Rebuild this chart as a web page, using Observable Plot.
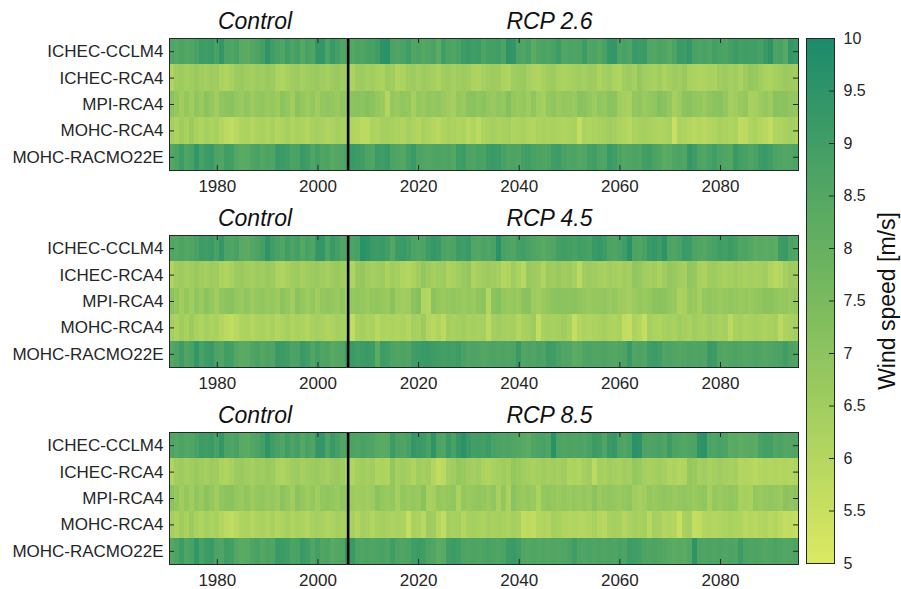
<!DOCTYPE html>
<html>
<head>
<meta charset="utf-8">
<script src="https://cdn.jsdelivr.net/npm/d3@7"></script>
<script src="https://cdn.jsdelivr.net/npm/@observablehq/plot@0.6"></script>
<style>
  html, body { margin: 0; padding: 0; background: #fff; }
  #chart { position: relative; width: 901px; height: 589px; overflow: hidden; }
  #chart svg { position: absolute; display: block; overflow: visible; }
</style>
</head>
<body>
<div id="chart"></div>
<script>
// Annual mean wind speed [m/s] per regional climate model, control run + three RCP scenarios
const models = ["ICHEC-CCLM4", "ICHEC-RCA4", "MPI-RCA4", "MOHC-RCA4", "MOHC-RACMO22E"];
const controlStart = 1971;   // control run: 1971–2005
const rcpStart = 2006;       // scenario runs: 2006–2095
const xTicks = [1980, 2000, 2020, 2040, 2060, 2080];
const colorTicks = [5, 5.5, 6, 6.5, 7, 7.5, 8, 8.5, 9, 9.5, 10];
const scenarios = ["RCP 2.6", "RCP 4.5", "RCP 8.5"];

// Control period (shared by all panels)
const ctrl_ICHEC_CCLM4 = [8.6, 8.5, 8.7, 8.5, 8.6, 8.8, 9.1, 9.0, 9.2, 8.8, 9.3, 8.7, 8.6, 8.8, 8.4, 8.3, 8.5, 8.7, 8.9, 9.5, 9.0, 8.8, 8.6, 9.0, 8.7, 8.9, 8.5, 8.8, 8.6, 9.3, 9.4, 8.7, 9.2, 8.9, 8.6];
const ctrl_ICHEC_RCA4 = [6.1, 6.5, 6.6, 6.4, 6.5, 6.7, 6.5, 6.4, 6.6, 6.5, 6.2, 6.1, 6.3, 6.6, 6.7, 6.5, 6.4, 6.6, 6.5, 6.7, 6.6, 6.2, 6.1, 6.3, 6.5, 6.6, 6.4, 6.5, 6.6, 6.7, 6.5, 6.4, 6.6, 6.7, 6.5];
const ctrl_MPI_RCA4 = [7.0, 6.8, 6.5, 6.8, 6.5, 6.9, 6.7, 7.0, 6.8, 6.5, 6.9, 7.0, 7.1, 6.8, 6.7, 6.9, 6.6, 6.8, 6.9, 6.7, 6.8, 6.6, 7.0, 6.8, 6.5, 7.0, 6.8, 6.6, 6.8, 6.5, 6.8, 6.9, 6.8, 6.7, 6.9];
const ctrl_MOHC_RCA4 = [6.4, 6.2, 6.5, 6.3, 6.6, 6.3, 6.1, 6.4, 6.2, 6.3, 6.0, 5.8, 5.7, 5.9, 6.1, 6.2, 6.0, 6.2, 6.3, 6.1, 6.3, 6.0, 6.2, 6.4, 6.1, 6.3, 6.2, 6.0, 6.3, 6.4, 6.3, 6.1, 6.2, 6.4, 6.3];
const ctrl_MOHC_RACMO22E = [8.5, 8.7, 9.1, 8.6, 8.8, 9.4, 8.8, 9.1, 9.2, 8.7, 8.6, 9.0, 8.9, 8.5, 8.3, 8.4, 8.6, 8.8, 8.5, 8.7, 8.6, 9.2, 9.1, 9.0, 8.7, 8.8, 9.2, 9.0, 8.6, 8.9, 8.6, 8.7, 8.4, 8.5, 8.6];

// RCP 2.6, 2006–2095
const rcp26_ICHEC_CCLM4 = [8.6, 8.5, 8.7, 8.6, 8.8, 8.8, 9.0, 9.5, 9.6, 8.7, 8.6, 8.8, 9.0, 8.6, 8.7, 8.5, 8.6, 8.7, 8.3, 9.0, 8.7, 8.6, 8.8, 9.1, 9.2, 9.0, 9.1, 8.7, 8.9, 8.9, 9.0, 8.7, 9.5, 9.4, 8.7, 8.6, 8.8, 8.3, 8.6, 8.7, 8.6, 8.8, 9.1, 8.6, 8.7, 8.6, 8.7, 9.1, 8.6, 8.7, 8.5, 8.8, 9.3, 9.4, 8.7, 8.8, 8.6, 9.2, 9.1, 9.2, 8.6, 8.5, 8.7, 8.6, 8.4, 8.7, 9.2, 9.1, 9.4, 8.8, 8.7, 8.8, 8.6, 8.9, 8.8, 8.7, 8.9, 9.1, 8.9, 9.0, 8.9, 9.0, 8.8, 9.2, 9.5, 8.7, 8.8, 8.4, 9.3, 9.2];
const rcp26_ICHEC_RCA4 = [6.5, 6.2, 6.5, 6.6, 6.4, 6.5, 6.3, 6.2, 6.6, 6.5, 6.1, 6.2, 6.5, 6.6, 6.4, 6.6, 6.5, 6.4, 6.2, 6.5, 6.6, 6.4, 6.5, 6.6, 6.5, 6.2, 6.1, 6.4, 6.5, 6.6, 6.5, 6.2, 6.1, 6.5, 6.6, 6.7, 6.4, 6.2, 6.1, 6.3, 6.5, 6.6, 6.3, 6.2, 6.3, 6.4, 6.5, 6.4, 6.6, 6.5, 6.2, 6.4, 6.5, 6.2, 6.1, 6.5, 6.6, 6.4, 6.8, 6.5, 6.4, 6.3, 6.5, 6.2, 6.4, 6.6, 6.5, 6.7, 6.3, 6.2, 6.1, 6.2, 6.3, 6.2, 6.5, 6.6, 6.4, 6.5, 6.2, 6.6, 6.8, 6.7, 6.5, 6.3, 6.2, 6.4, 6.5, 6.7, 6.6, 6.5];
const rcp26_MPI_RCA4 = [6.8, 7.0, 7.1, 7.0, 7.2, 7.0, 6.8, 6.7, 6.0, 6.8, 6.7, 6.9, 6.8, 6.4, 6.8, 6.7, 6.9, 6.8, 6.9, 6.7, 6.5, 6.4, 6.8, 6.7, 7.0, 7.1, 6.9, 7.0, 6.8, 6.7, 6.9, 6.8, 7.2, 6.8, 6.7, 6.8, 6.6, 6.9, 6.5, 6.4, 6.8, 6.9, 6.7, 6.8, 6.8, 6.7, 7.1, 7.0, 6.8, 6.6, 6.9, 6.8, 7.1, 7.0, 6.5, 6.4, 6.3, 6.8, 6.9, 6.7, 6.8, 6.9, 7.2, 7.1, 6.8, 6.4, 6.6, 7.0, 7.1, 6.9, 6.8, 6.7, 6.9, 7.0, 7.1, 6.8, 6.4, 6.5, 6.7, 6.8, 6.3, 6.4, 6.6, 6.8, 6.6, 7.1, 7.0, 7.1, 6.9, 6.8];
const rcp26_MOHC_RCA4 = [6.3, 6.1, 6.0, 5.8, 5.8, 6.2, 6.1, 6.4, 6.4, 6.3, 6.2, 6.1, 6.4, 6.2, 6.0, 6.3, 6.2, 6.0, 5.9, 6.1, 6.3, 6.2, 6.1, 6.2, 5.9, 6.1, 5.8, 6.2, 6.3, 6.4, 6.2, 6.3, 6.4, 6.1, 6.2, 6.3, 6.1, 6.0, 6.2, 6.3, 6.2, 6.3, 6.2, 6.1, 6.2, 6.3, 5.6, 6.2, 6.1, 6.2, 6.3, 6.4, 6.5, 6.4, 6.2, 6.1, 5.9, 6.2, 6.3, 6.4, 6.3, 6.2, 6.1, 6.2, 6.3, 5.5, 6.2, 6.1, 6.0, 5.9, 6.0, 5.9, 6.0, 6.1, 6.3, 6.2, 6.1, 6.2, 5.7, 5.8, 6.1, 6.2, 6.0, 5.9, 5.7, 6.1, 6.2, 6.3, 6.4, 6.3];
const rcp26_MOHC_RACMO22E = [8.8, 9.2, 9.1, 9.0, 8.7, 8.6, 9.1, 9.0, 9.2, 8.7, 8.6, 8.5, 8.9, 9.2, 8.7, 8.6, 8.5, 8.6, 8.7, 8.6, 8.7, 8.5, 9.0, 9.1, 8.7, 8.6, 8.8, 8.7, 9.1, 9.2, 9.1, 8.8, 8.6, 8.7, 8.6, 8.9, 9.0, 8.8, 8.7, 8.6, 8.7, 9.0, 9.1, 8.8, 8.6, 8.7, 8.5, 8.6, 8.9, 9.0, 8.7, 8.6, 9.2, 9.0, 8.7, 8.5, 8.6, 8.7, 8.6, 8.9, 9.0, 8.7, 8.6, 8.3, 8.4, 8.6, 8.7, 8.6, 9.3, 9.1, 8.7, 8.6, 8.8, 9.0, 8.7, 8.6, 8.5, 9.2, 8.9, 8.8, 8.6, 8.8, 9.1, 9.2, 9.0, 8.7, 8.6, 8.5, 8.6, 8.7];

// RCP 4.5, 2006–2095
const rcp45_ICHEC_CCLM4 = [8.6, 8.7, 8.8, 9.6, 9.5, 9.2, 9.1, 9.2, 9.0, 8.5, 9.1, 9.2, 9.0, 8.7, 8.6, 8.7, 9.1, 9.3, 9.2, 8.7, 8.6, 8.7, 9.1, 9.0, 9.2, 8.6, 8.5, 8.7, 8.6, 8.8, 9.6, 8.8, 8.7, 8.6, 8.9, 9.0, 8.8, 8.6, 8.5, 8.4, 8.5, 8.6, 8.9, 9.0, 8.9, 8.8, 9.0, 8.9, 8.8, 9.2, 9.3, 9.1, 8.7, 8.6, 8.8, 9.0, 9.6, 8.7, 8.6, 8.8, 9.2, 9.3, 9.1, 9.5, 8.7, 8.6, 8.8, 9.2, 9.1, 8.7, 8.6, 8.5, 8.7, 8.8, 9.0, 8.9, 9.1, 8.9, 8.6, 8.7, 8.5, 8.3, 8.4, 8.3, 8.4, 8.3, 9.1, 9.2, 8.7, 8.6];
const rcp45_ICHEC_RCA4 = [6.4, 6.1, 6.7, 6.8, 6.5, 6.4, 6.5, 6.6, 6.2, 6.5, 6.4, 6.1, 6.0, 6.2, 6.5, 6.8, 6.6, 6.4, 6.5, 6.6, 6.2, 6.3, 6.5, 6.7, 6.8, 6.2, 6.4, 6.5, 6.6, 6.5, 6.4, 6.0, 6.1, 6.5, 6.2, 5.9, 6.7, 6.6, 6.5, 6.1, 6.6, 6.5, 6.7, 6.5, 6.6, 6.4, 5.8, 6.5, 6.6, 6.5, 6.4, 6.3, 6.5, 6.4, 6.3, 6.5, 6.4, 6.9, 6.8, 6.5, 6.4, 6.5, 6.2, 6.5, 6.8, 6.7, 6.5, 6.4, 6.9, 6.8, 6.3, 6.2, 6.5, 6.6, 6.4, 6.3, 6.4, 6.5, 6.4, 6.3, 6.4, 6.3, 6.4, 6.5, 6.1, 5.9, 6.0, 6.4, 6.6, 6.5];
const rcp45_MPI_RCA4 = [6.5, 6.8, 6.9, 6.8, 6.7, 6.8, 6.9, 6.8, 6.7, 7.1, 6.6, 6.5, 6.6, 7.0, 7.2, 6.1, 6.0, 7.0, 6.8, 6.7, 6.8, 6.9, 6.8, 6.7, 6.8, 6.7, 6.9, 7.0, 6.0, 7.1, 7.2, 6.8, 6.7, 6.8, 6.7, 7.0, 7.1, 6.6, 6.5, 6.7, 6.8, 7.0, 7.1, 7.0, 7.0, 7.1, 6.9, 6.8, 6.7, 6.8, 6.8, 6.9, 6.7, 6.8, 6.6, 6.5, 6.4, 6.6, 6.8, 6.7, 6.8, 7.0, 7.1, 7.0, 6.8, 6.7, 6.2, 6.3, 6.8, 6.7, 6.4, 6.8, 6.9, 6.8, 6.7, 6.8, 6.9, 6.8, 6.7, 6.8, 6.7, 6.8, 6.9, 7.0, 7.0, 6.9, 6.8, 6.8, 6.7, 6.8];
const rcp45_MOHC_RCA4 = [6.3, 5.7, 6.3, 6.4, 6.2, 6.3, 5.9, 6.2, 6.1, 6.2, 6.1, 6.2, 6.0, 6.4, 6.3, 6.6, 6.0, 5.9, 6.1, 5.8, 6.4, 6.3, 6.4, 6.5, 6.3, 6.4, 6.3, 6.4, 5.8, 6.4, 6.5, 6.4, 6.3, 6.4, 6.0, 6.3, 6.4, 6.6, 5.7, 6.3, 6.4, 6.3, 6.4, 6.5, 6.3, 5.6, 6.0, 6.2, 6.1, 6.2, 6.3, 6.4, 6.2, 6.1, 6.3, 5.7, 5.6, 6.2, 6.0, 5.6, 6.4, 6.2, 6.1, 6.3, 6.4, 6.3, 6.5, 6.4, 6.3, 6.5, 6.4, 6.3, 6.5, 6.4, 6.3, 6.4, 5.8, 6.3, 6.4, 6.2, 6.3, 6.4, 6.3, 6.2, 6.3, 6.4, 5.8, 6.2, 6.3, 6.4];
const rcp45_MOHC_RACMO22E = [9.1, 9.2, 9.0, 9.1, 9.2, 9.1, 8.3, 9.1, 9.0, 8.7, 8.6, 8.7, 8.6, 9.0, 9.1, 9.2, 9.2, 9.1, 9.0, 8.9, 9.0, 8.9, 9.1, 8.8, 8.6, 8.7, 8.6, 8.5, 8.6, 8.7, 8.6, 8.7, 8.6, 8.7, 9.2, 8.6, 8.7, 8.6, 8.8, 8.7, 9.1, 9.0, 8.8, 8.6, 8.6, 8.3, 8.4, 8.6, 8.7, 8.6, 8.6, 8.7, 8.6, 8.5, 8.6, 8.7, 9.2, 8.6, 8.7, 8.6, 9.0, 9.1, 9.0, 8.6, 8.7, 8.6, 8.5, 8.6, 8.7, 8.6, 8.7, 8.6, 9.2, 9.1, 8.6, 8.5, 8.6, 8.7, 8.6, 8.5, 8.6, 8.7, 8.6, 8.5, 8.6, 8.7, 8.8, 9.0, 8.7, 8.6];

// RCP 8.5, 2006–2095
const rcp85_ICHEC_CCLM4 = [8.6, 8.7, 8.6, 8.8, 8.7, 8.6, 8.4, 8.3, 8.4, 9.1, 8.7, 8.6, 8.8, 9.3, 9.2, 9.1, 8.8, 9.5, 8.7, 8.6, 9.2, 8.8, 9.3, 9.6, 9.2, 8.9, 9.0, 8.9, 9.1, 8.8, 8.7, 8.6, 8.7, 8.6, 8.5, 8.4, 8.3, 8.6, 8.7, 8.8, 8.6, 9.6, 8.7, 8.6, 8.7, 8.6, 8.7, 8.6, 8.8, 9.1, 9.0, 8.6, 9.2, 9.3, 8.7, 8.6, 8.8, 9.6, 9.5, 8.7, 8.6, 8.7, 8.8, 8.6, 9.1, 8.7, 8.6, 8.5, 8.6, 8.7, 9.5, 9.6, 8.7, 8.6, 8.8, 8.7, 8.3, 8.4, 8.2, 8.3, 8.4, 8.3, 8.8, 8.9, 8.9, 8.6, 8.7, 8.5, 8.6, 8.6];
const rcp85_ICHEC_RCA4 = [6.0, 6.1, 6.4, 6.5, 6.4, 6.5, 6.1, 6.2, 6.1, 6.8, 6.4, 6.5, 6.4, 6.1, 6.5, 6.4, 6.5, 6.0, 5.7, 5.8, 6.4, 6.5, 6.8, 6.7, 6.5, 6.4, 6.5, 6.2, 6.1, 6.3, 6.4, 6.5, 6.4, 6.8, 6.7, 6.5, 6.4, 6.3, 6.4, 6.5, 6.4, 6.5, 6.4, 6.5, 6.1, 6.2, 6.1, 6.4, 6.5, 5.8, 6.4, 6.3, 6.5, 6.4, 6.3, 6.5, 6.4, 6.8, 6.7, 6.4, 6.3, 6.4, 6.5, 6.4, 6.1, 6.2, 6.0, 6.1, 6.8, 6.7, 6.4, 6.5, 6.3, 6.4, 6.5, 6.4, 6.3, 6.4, 6.0, 6.1, 6.0, 5.9, 6.0, 6.1, 6.0, 6.1, 6.0, 6.1, 6.0, 6.1];
const rcp85_MPI_RCA4 = [6.8, 6.6, 6.5, 6.6, 6.5, 6.6, 7.0, 6.8, 6.7, 6.8, 6.4, 6.8, 6.7, 6.8, 6.7, 7.1, 6.3, 6.4, 6.8, 6.7, 6.8, 6.9, 6.2, 6.8, 6.7, 6.8, 6.9, 6.8, 6.7, 6.9, 6.3, 6.8, 6.2, 7.1, 6.8, 6.7, 6.8, 6.7, 6.2, 6.8, 6.9, 6.8, 6.7, 6.8, 6.7, 6.8, 6.7, 6.8, 6.7, 7.0, 6.7, 6.8, 6.9, 6.8, 6.7, 6.8, 6.9, 6.5, 6.4, 6.5, 6.8, 6.7, 6.8, 6.9, 6.8, 6.7, 6.8, 6.9, 6.8, 6.7, 6.8, 6.9, 6.4, 6.8, 6.7, 6.8, 6.9, 6.8, 6.3, 6.4, 6.3, 6.8, 6.7, 6.8, 6.9, 6.8, 6.7, 7.0, 6.9, 7.0];
const rcp85_MOHC_RCA4 = [6.4, 6.3, 6.0, 6.4, 6.3, 6.0, 6.3, 6.4, 6.3, 6.2, 6.3, 6.2, 5.6, 6.3, 6.2, 5.9, 6.6, 6.5, 6.0, 5.7, 6.4, 6.3, 6.4, 6.0, 6.3, 6.4, 6.3, 6.2, 6.4, 6.3, 6.4, 6.3, 6.2, 6.4, 6.3, 5.7, 5.8, 5.7, 6.0, 6.1, 6.0, 6.4, 6.3, 6.1, 6.0, 6.1, 6.0, 6.0, 6.1, 6.3, 6.0, 5.9, 6.3, 6.4, 6.3, 6.0, 6.2, 6.4, 6.3, 6.4, 5.9, 6.4, 6.3, 6.0, 6.1, 6.0, 5.5, 6.3, 6.4, 5.6, 5.7, 6.0, 6.1, 6.0, 6.1, 6.2, 6.3, 6.2, 6.1, 5.9, 6.0, 5.9, 6.0, 6.1, 5.9, 6.0, 5.8, 5.6, 5.7, 5.6];
const rcp85_MOHC_RACMO22E = [9.3, 9.2, 8.7, 8.6, 8.7, 8.6, 8.7, 8.8, 8.6, 9.0, 8.7, 8.6, 8.7, 9.0, 9.1, 9.0, 8.7, 8.6, 8.3, 8.4, 9.0, 9.1, 9.0, 8.7, 8.6, 8.7, 8.6, 8.7, 8.8, 8.7, 8.6, 8.7, 9.1, 9.2, 9.0, 8.6, 8.5, 8.6, 8.5, 8.6, 8.5, 8.6, 8.5, 8.6, 8.7, 9.0, 8.7, 8.6, 8.7, 8.6, 8.7, 8.6, 8.7, 8.6, 8.8, 8.7, 9.1, 9.0, 8.9, 8.7, 8.6, 8.7, 8.6, 8.5, 8.4, 8.3, 8.4, 8.3, 8.5, 9.5, 8.7, 8.6, 8.7, 8.6, 8.7, 8.6, 8.7, 8.6, 9.1, 8.7, 8.6, 8.7, 8.6, 8.5, 8.6, 8.7, 8.6, 8.5, 8.6, 8.7];

const controlRows = [ctrl_ICHEC_CCLM4, ctrl_ICHEC_RCA4, ctrl_MPI_RCA4, ctrl_MOHC_RCA4, ctrl_MOHC_RACMO22E];
const scenarioRows = [
  [rcp26_ICHEC_CCLM4, rcp26_ICHEC_RCA4, rcp26_MPI_RCA4, rcp26_MOHC_RCA4, rcp26_MOHC_RACMO22E],
  [rcp45_ICHEC_CCLM4, rcp45_ICHEC_RCA4, rcp45_MPI_RCA4, rcp45_MOHC_RCA4, rcp45_MOHC_RACMO22E],
  [rcp85_ICHEC_CCLM4, rcp85_ICHEC_RCA4, rcp85_MPI_RCA4, rcp85_MOHC_RCA4, rcp85_MOHC_RACMO22E]
];

// Shared colour scale (yellow = calm, teal green = windy)
const color = {type: "linear", domain: [5, 7.5, 10], range: ["#dce962", "#79ba5e", "#1b8a6b"], interpolate: "rgb"};

const FONT = "'Liberation Sans', Arial, Helvetica, sans-serif";
const INK = "#262626";
const panelStep = 197;                 // vertical distance between stacked panels
const panelW = 800, panelH = 207;
const mL = 169, mR = 2, mT = 38, mB = 37;
const plotW = panelW - mL - mR, plotH = panelH - mT - mB;
const rowIndex = models.map((_, i) => i);

function panel(scenario, rows) {
  const cells = [];
  models.forEach((m, i) => {
    controlRows[i].forEach((v, k) => cells.push({row: i, year: controlStart + k, value: v}));
    rows[i].forEach((v, k) => cells.push({row: i, year: rcpStart + k, value: v}));
  });
  const titles = [
    {label: "Control", year: 1987.5},
    {label: scenario, year: 2046}
  ];
  return Plot.plot({
    width: panelW, height: panelH,
    marginLeft: mL, marginRight: mR, marginTop: mT, marginBottom: mB,
    style: {fontFamily: FONT, fontSize: "17px", color: INK, background: "transparent", overflow: "visible"},
    x: {domain: [controlStart - 0.5, rcpStart + 89.5]},
    y: {domain: [models.length - 0.5, -0.5]},
    color,
    marks: [
      Plot.rect(cells, {
        x1: d => d.year - 0.5, x2: d => d.year + 0.5,
        y1: d => d.row - 0.5, y2: d => d.row + 0.5,
        fill: "value", shapeRendering: "crispEdges"
      }),
      Plot.ruleX([rcpStart], {stroke: "#000", strokeWidth: 2.6}),
      // inward tick marks (top, bottom, left, right)
      Plot.ruleX(xTicks, {insetBottom: plotH - 5, stroke: INK}),
      Plot.ruleX(xTicks, {insetTop: plotH - 5, stroke: INK}),
      Plot.ruleY(rowIndex, {insetRight: plotW - 5, stroke: INK}),
      Plot.ruleY(rowIndex, {insetLeft: plotW - 5, stroke: INK}),
      Plot.frame({stroke: INK}),
      Plot.axisX({ticks: xTicks, tickFormat: d => String(d), tickSize: 0, tickPadding: 9, fontSize: 17, label: null}),
      Plot.axisY({ticks: rowIndex, tickFormat: i => models[i], tickSize: 0, tickPadding: 6, fontSize: 17, label: null}),
      Plot.text(titles, {x: "year", text: "label", frameAnchor: "top", dy: -10, lineAnchor: "bottom",
        fontSize: 23, fontStyle: "italic", fill: "#111"})
    ]
  });
}

function colorbar() {
  const stops = d3.range(5, 10, 0.02);
  return Plot.plot({
    width: 101, height: 589,
    marginLeft: 6, marginRight: 67, marginTop: 38, marginBottom: 26,
    style: {fontFamily: FONT, fontSize: "16px", color: INK, background: "transparent", overflow: "visible"},
    x: {domain: [0, 1], axis: null},
    y: {domain: [5, 10]},
    color,
    marks: [
      Plot.rect(stops, {x1: () => 0, x2: () => 1, y1: d => d, y2: d => d + 0.021, fill: d => d, shapeRendering: "crispEdges"}),
      Plot.ruleY(colorTicks, {insetLeft: 23, stroke: INK}),
      Plot.frame({stroke: INK}),
      Plot.axisY({anchor: "right", ticks: colorTicks, tickFormat: d => String(d), tickSize: 0, tickPadding: 9, fontSize: 16, label: null}),
      Plot.text(["Wind speed [m/s]"], {frameAnchor: "right", rotate: -90, dx: 53, fontSize: 23,
        textAnchor: "middle", lineAnchor: "middle", fill: "#111"})
    ]
  });
}

const chart = document.getElementById("chart");
scenarios.forEach((s, p) => {
  const svg = panel(s, scenarioRows[p]);
  svg.style.left = "0px";
  svg.style.top = (p * panelStep) + "px";
  chart.appendChild(svg);
});
const cb = colorbar();
cb.style.left = "800px";
cb.style.top = "0px";
chart.appendChild(cb);
</script>
</body>
</html>
